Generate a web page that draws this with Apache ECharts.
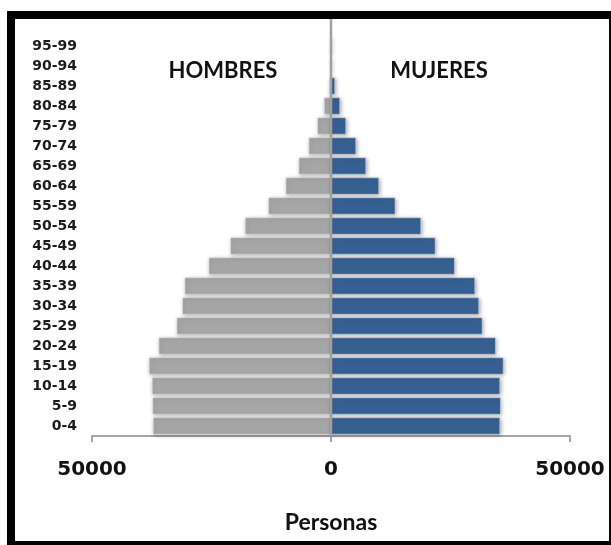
<!DOCTYPE html>
<html><head><meta charset="utf-8">
<script src="https://cdn.jsdelivr.net/npm/echarts@6/dist/echarts.min.js"></script>
<style>html,body{margin:0;padding:0;background:#fff}#c{width:611px;height:545px}</style>
</head><body><div id="c"></div>
<script>
const categories = ['0-4','5-9','10-14','15-19','20-24','25-29','30-34','35-39','40-44','45-49','50-54','55-59','60-64','65-69','70-74','75-79','80-84','85-89','90-94','95-99'];
const hombres = [37240,37340,37450,38080,36050,32280,31100,30610,25590,21060,17990,13110,9480,6760,4670,2860,1460,300,0,0];
const mujeres = [35360,35500,35360,36070,34460,31670,30960,30130,25880,21840,18830,13450,10040,7320,5230,3140,1880,840,0,0];
const xTicks = [-50000,0,50000];

const chart = echarts.init(document.getElementById('c'));
const shadow = {shadowColor:'rgba(0,0,0,0.35)',shadowBlur:4,shadowOffsetX:1,shadowOffsetY:1};
chart.setOption({
  animation:false,
  backgroundColor:'#fff',
  grid:{left:92,right:41,top:36,bottom:109},
  xAxis:{type:'value',min:xTicks[0],max:xTicks[2],interval:50000,
    axisLine:{show:true,onZero:false,lineStyle:{color:'#a6a6a6',width:2}},
    axisTick:{show:true,length:6,lineStyle:{color:'#a6a6a6',width:2}},
    splitLine:{show:false},
    axisLabel:{formatter:v=>String(Math.abs(v)),fontFamily:'DejaVu Sans',fontWeight:'bold',fontSize:20,color:'#111',margin:24},
    name:'Personas',nameLocation:'middle',nameGap:75,
    nameTextStyle:{fontFamily:'Lato',fontWeight:'bold',fontSize:23,color:'#111'}},
  yAxis:{type:'category',data:categories,
    axisLine:{show:false,onZero:false},axisTick:{show:false},
    axisLabel:{fontFamily:'DejaVu Sans',fontWeight:'bold',fontSize:14,color:'#1a1a1a',margin:15,padding:[3,0,0,0]}},
  series:[
    {name:'Hombres',type:'bar',stack:'p',barWidth:'85%',data:hombres.map(v=>-v),
     itemStyle:Object.assign({color:'#a6a6a6',borderColor:'#ececec',borderWidth:0.5},shadow)},
    {name:'Mujeres',type:'bar',stack:'p',barWidth:'85%',data:mujeres,
     itemStyle:Object.assign({color:'#376092',borderColor:'#dfe6ef',borderWidth:0.5},shadow)}
  ]
});
const x0 = chart.convertToPixel({xAxisIndex:0},0);
chart.setOption({graphic:[
  {type:'line',shape:{x1:x0,y1:19,x2:x0,y2:436},style:{stroke:'#a0a0a0',lineWidth:2.5},z:100},
  {type:'rect',shape:{x:7,y:11,width:604,height:8},style:{fill:'#000'}},
  {type:'rect',shape:{x:7,y:11,width:8,height:534},style:{fill:'#000'}},
  {type:'rect',shape:{x:609,y:11,width:2,height:534},style:{fill:'#000'}},
  {type:'rect',shape:{x:7,y:541,width:604,height:4},style:{fill:'#000'}},
  {type:'text',x:223,y:71,style:{text:'HOMBRES',fontFamily:'Lato',fontWeight:'bold',fontSize:22,fill:'#111',textAlign:'center',textVerticalAlign:'middle'}},
  {type:'text',x:439,y:71,style:{text:'MUJERES',fontFamily:'Lato',fontWeight:'bold',fontSize:22,fill:'#111',textAlign:'center',textVerticalAlign:'middle'}}
]});
</script></body></html>
